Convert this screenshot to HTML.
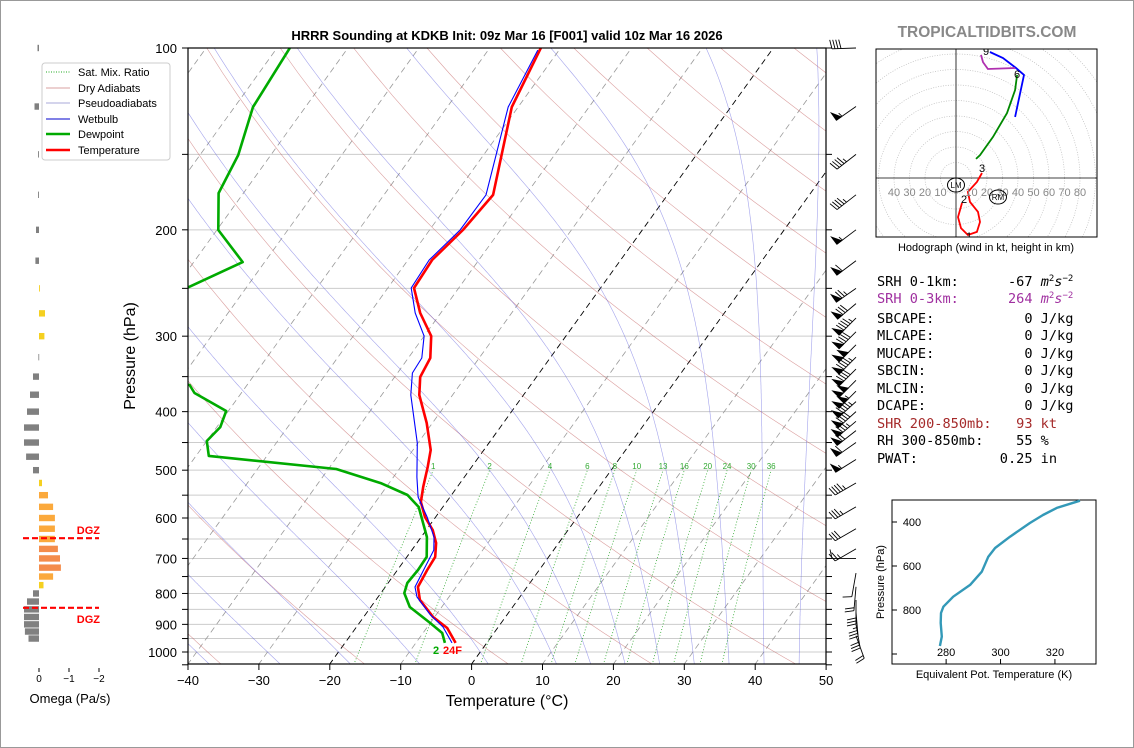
<!DOCTYPE html>
<html><head><meta charset="utf-8">
<style>
html,body{margin:0;padding:0;background:#fff;}
svg{display:block;font-family:"Liberation Sans","DejaVu Sans",sans-serif;}
.mono{font-family:"DejaVu Sans Mono","Liberation Mono",monospace;font-size:13.6px;}
</style></head>
<body>
<svg id="root" width="1134" height="748" viewBox="0 0 1134 748" xmlns="http://www.w3.org/2000/svg">
<rect x="0.5" y="0.5" width="1133" height="747" fill="#fff" stroke="#999"/>
<defs><clipPath id="plotclip"><rect x="188" y="48" width="638" height="616"/></clipPath>
<clipPath id="hodoclip"><rect x="876" y="49" width="221" height="188"/></clipPath></defs>
<text x="507" y="40" text-anchor="middle" font-size="13" font-weight="bold">HRRR Sounding at KDKB Init: 09z Mar 16 [F001] valid 10z Mar 16 2026</text>
<text x="987" y="37" text-anchor="middle" font-size="15.5" font-weight="bold" fill="#888">TROPICALTIDBITS.COM</text>
<g id="bg" clip-path="url(#plotclip)"></g>
<g id="prof" clip-path="url(#plotclip)"></g>
<g id="axes"></g>
<g id="barbs"></g>
<g id="omega"></g>
<g id="hodo"></g>
<g id="thetae"></g>
<g>
<rect x="42" y="63" width="128" height="97" rx="3" fill="#fff" fill-opacity="0.9" stroke="#ccc"/>
<line x1="46" y1="72" x2="70" y2="72" stroke="#2a2" stroke-dasharray="1,1.5"/>
<text x="78" y="76" font-size="11">Sat. Mix. Ratio</text>
<line x1="46" y1="88" x2="70" y2="88" stroke="#d9a0a0"/>
<text x="78" y="92" font-size="11">Dry Adiabats</text>
<line x1="46" y1="103" x2="70" y2="103" stroke="#a8a8d8"/>
<text x="78" y="107" font-size="11">Pseudoadiabats</text>
<line x1="46" y1="119" x2="70" y2="119" stroke="#00c"/>
<text x="78" y="123" font-size="11">Wetbulb</text>
<line x1="46" y1="134" x2="70" y2="134" stroke="#0a0" stroke-width="2.5"/>
<text x="78" y="138" font-size="11">Dewpoint</text>
<line x1="46" y1="150" x2="70" y2="150" stroke="#f00" stroke-width="2.5"/>
<text x="78" y="154" font-size="11">Temperature</text>
</g>
<g class="mono">
<text x="877" y="286" xml:space="preserve">SRH 0-1km:      -67 <tspan font-style="italic">m</tspan><tspan font-size="9" dy="-5">2</tspan><tspan font-style="italic" dy="5">s</tspan><tspan font-size="9" dy="-5">−2</tspan></text>
<text x="877" y="303" fill="#a030a0" xml:space="preserve">SRH 0-3km:      264 <tspan font-style="italic">m</tspan><tspan font-size="9" dy="-5">2</tspan><tspan font-style="italic" dy="5">s</tspan><tspan font-size="9" dy="-5">−2</tspan></text>
<text x="877" y="323" xml:space="preserve">SBCAPE:           0 J/kg</text>
<text x="877" y="340" xml:space="preserve">MLCAPE:           0 J/kg</text>
<text x="877" y="358" xml:space="preserve">MUCAPE:           0 J/kg</text>
<text x="877" y="375" xml:space="preserve">SBCIN:            0 J/kg</text>
<text x="877" y="393" xml:space="preserve">MLCIN:            0 J/kg</text>
<text x="877" y="410" xml:space="preserve">DCAPE:            0 J/kg</text>
<text x="877" y="428" fill="#a52a2a" xml:space="preserve">SHR 200-850mb:   93 kt</text>
<text x="877" y="445" xml:space="preserve">RH 300-850mb:    55 %</text>
<text x="877" y="463" xml:space="preserve">PWAT:          0.25 in</text>
</g>
</svg>
<script>
// ===== Skew-T data =====
const tempP = [100,125.2,175.1,200.1,224.4,249.7,274.6,299.9,326,350.5,375.4,417.7,463,494,533,564.5,597.7,628,660,696,731.6,780.4,820,875,912.7,966];
const tempT = [-52.8,-50.9,-44.6,-45.3,-46.6,-46.3,-42.9,-39.0,-36.9,-36.4,-34.7,-30.8,-27.5,-26.2,-24.8,-23.6,-21.5,-19.1,-17.3,-16.0,-15.8,-15.4,-13.8,-10.2,-7.1,-4.4];
const wbP = [100.8,125.2,175.1,200.1,224.4,249.7,274.6,299.9,326,345.2,375.4,450.8,513.3,553.9,597.7,645,678,723,780.4,811,868,909,966];
const wbT = [-53,-51.4,-45.6,-45.7,-47.0,-46.7,-43.6,-40.0,-38.1,-37.9,-35.9,-30.1,-26.7,-24.5,-21.2,-18.2,-16.9,-16.4,-15.8,-14.5,-10.8,-7.8,-4.9];
const dewP = [100,125.2,150.4,173.9,200.1,226.2,248.9,300,340,361.4,372.6,399,424.2,447.3,473.6,497.8,525.2,549.7,575.4,645,696,731.6,768.6,798.8,842.5,895.4,930,966];
const dewT = [-88.2,-87.4,-84.6,-83.5,-79.8,-73.1,-78.2,-85,-83,-68.1,-66.6,-60.3,-59.5,-60,-58.2,-38.9,-31.2,-26.2,-23.4,-19.2,-17.2,-17.1,-17.3,-16.7,-14.5,-10,-7.3,-5.9];
const yTickP = [100,200,300,400,500,600,700,800,900,1000];
const xTickT = [-40,-30,-20,-10,0,10,20,30,40,50];
const mixRatios = [1,2,4,6,8,10,13,16,20,24,30,36];
const barbP = [100,125,150,175,200,225,250,265,280,295,310,325,340,355,370,385,400,415,430,450,480,525,575,625,675,700,740,780,820,860,900,940];
const barbSpd = [40,55,45,45,55,60,75,80,95,90,100,95,90,100,105,95,90,85,70,60,55,45,35,30,25,10,10,20,30,35,30,20];
const barbDir = [268,235,232,232,233,233,235,230,225,225,225,225,225,225,225,228,228,230,232,235,238,240,240,240,240,270,190,185,180,175,170,160];
// Omega data
const omegaP = [100,125,150,175,200,225,250,275,300,325,350,375,400,425,450,475,500,525,550,575,600,625,650,675,700,725,750,775,800,825,850,875,900,925,950];
const omegaVal = [0.05,0.15,0.03,0.03,0.1,0.12,-0.03,-0.2,-0.18,0.02,0.2,0.3,0.4,0.5,0.5,0.43,0.2,-0.1,-0.3,-0.47,-0.53,-0.53,-0.53,-0.63,-0.7,-0.73,-0.47,-0.15,0.2,0.4,0.5,0.5,0.5,0.47,0.35];
const dgzP = [648,845];
// Hodograph data (kt)
const hodoRedU = [3.9,1.3,3.2,7.7,13.5,15.5,14.2,9.0,7.7,13.5,16.8];
const hodoRedV = [-16.1,-25.2,-32.3,-36.8,-34.8,-28.4,-21.9,-15.5,-9.0,-2.6,3.2];
const hodoGreenU = [12.9,15.5,23.9,32.9,38.1,39.4];
const hodoGreenV = [12.3,14.8,26.5,41.9,56.8,66.5];
const hodoBlueU = [38.1,43.9,38.7,30.3,21.9];
const hodoBlueV = [39.4,66.5,71.0,77.4,81.3];
const hodoPurpleU = [38.1,20.6,17.4,16.1];
const hodoPurpleV = [71,70.3,74.8,79.4];
const hodoRingKt = [10,20,30,40,50,60,70,80,90,100,110];
const hodoTickKt = [-40,-30,-20,-10,10,20,30,40,50,60,70,80];
// Theta-e data
const thetaEK = [277.7,278.4,278.0,278.1,279.0,282.6,288.8,293.1,295.5,298.0,303.5,310.8,315.6,320.7,329.2];
const thetaEP = [963.6,921,859,813.6,785,739.5,686,626,557.7,518,466.8,404.5,368,336,303];
const thetaETicksP = [400,600,800,1000];
const thetaETicksK = [280,300,320];

const NS='http://www.w3.org/2000/svg';
function mk(tag,attrs,parent){const e=document.createElementNS(NS,tag);for(const k in attrs)e.setAttribute(k,attrs[k]);parent.appendChild(e);return e;}
const yP = p => 48 + 604*Math.log10(p/100);
const K = 0.72;
const xT = (T,p) => 188 + (T+40)*7.09 + K*(664 - yP(p));
function pathOf(ps,ts){return ps.map((p,i)=>(i?'L':'M')+xT(ts[i],p).toFixed(1)+','+yP(p).toFixed(1)).join('');}

const bg=document.getElementById('bg');
for(let p=100;p<=1050;p+=50){const l=mk('line',{x1:188,x2:826,y1:yP(p),y2:yP(p),stroke:'#ccc','stroke-width':1},bg);

}
for(let T=-120;T<=50;T+=10){const l=mk('line',{x1:xT(T,1050),y1:yP(1050),x2:xT(T,100),y2:yP(100),stroke:(T===0||T===-20)?'#000':'#999','stroke-width':(T===0||T===-20)?0.9:0.8,'stroke-dasharray':'6,4'},bg);

}
for(let th=214.7;th<=560;th+=20){let d='';for(let p=1050;p>=100;p-=10){const T=th*Math.pow(p/1000,0.286)-273.15;d+=(p===1050?'M':'L')+xT(T,p).toFixed(1)+','+yP(p).toFixed(1);}
const l=mk('path',{d:d,fill:'none',stroke:'rgba(190,80,80,0.55)','stroke-width':0.6},bg);

}
function es(Tc){return 6.112*Math.exp(17.67*Tc/(Tc+243.5));}
function dTdp(T,p){const Tc=T-273.15;const e=es(Tc);const rs=0.622*e/Math.max(p-e,1);return (287*T+2.501e6*rs)/(p*(1005+2.501e6*2.501e6*rs*0.622/(287*T*T)));}
[-40,-30,-20,-10,0,10,15,20,25,30,35,40,45,50,55].forEach(t0=>{let T=t0+273.15,pts=[];let Tb=T;for(let p=1000;p<1050;p+=5){Tb+=dTdp(Tb,p)*5;}
pts.push([1050,Tb]);pts.push([1000,T]);for(let p=1000;p>100;p-=2){T-=dTdp(T,p)*2;pts.push([p-2,T]);}
pts.sort((a,b)=>b[0]-a[0]);const d=pts.map((q,i)=>(i?'L':'M')+xT(q[1]-273.15,q[0]).toFixed(1)+','+yP(q[0]).toFixed(1)).join('');
const l=mk('path',{d:d,fill:'none',stroke:'rgba(90,90,220,0.55)','stroke-width':0.6},bg);

});
function tdFromW(w,p){const e=w*p/(622+w);const l=Math.log(e/6.112);return 243.5*l/(17.67-l);}
mixRatios.forEach(w=>{let d='';for(let p=1050;p>=500;p-=25){d+=(p===1050?'M':'L')+xT(tdFromW(w,p),p).toFixed(1)+','+yP(p).toFixed(1);}
const l=mk('path',{d:d,fill:'none',stroke:'#3a3','stroke-width':0.8,'stroke-dasharray':'1,2'},bg);


const t=mk('text',{x:xT(tdFromW(w,500),500),y:yP(500)-1,'font-size':8,fill:'#3a3','text-anchor':'middle'},bg);t.textContent=w;

});

const prof=document.getElementById('prof');
let e=mk('path',{d:pathOf(dewP,dewT),fill:'none',stroke:'#0a0','stroke-width':2.6,'stroke-linejoin':'round'},prof);


e=mk('path',{d:pathOf(tempP,tempT),fill:'none',stroke:'#f00','stroke-width':2.6,'stroke-linejoin':'round'},prof);


e=mk('path',{d:pathOf(wbP,wbT),fill:'none',stroke:'#00f','stroke-width':1.1},prof);


e=mk('text',{x:433,y:654,'font-size':11,'font-weight':'bold',fill:'#0a0'},prof);e.textContent='2';


e=mk('text',{x:443,y:654,'font-size':11,'font-weight':'bold',fill:'#f00'},prof);e.textContent='24F';



const ax=document.getElementById('axes');
mk('rect',{x:188,y:48,width:638,height:616,fill:'none',stroke:'#000','stroke-width':1.2},ax);
for(let p=100;p<=1050;p+=50){mk('line',{x1:182,x2:188,y1:yP(p),y2:yP(p),stroke:'#000'},ax);mk('line',{x1:826,x2:832,y1:yP(p),y2:yP(p),stroke:'#000'},ax);}
yTickP.forEach(p=>{const t=mk('text',{x:177,y:yP(p)+5,'font-size':13,'text-anchor':'end'},ax);t.textContent=p;

});
xTickT.forEach(T=>{const x=188+(T+40)*7.09;mk('line',{x1:x,x2:x,y1:664,y2:670,stroke:'#000'},ax);
const t=mk('text',{x:x,y:685,'font-size':13,'text-anchor':'middle'},ax);t.textContent=T<0?'−'+(-T):T;

});
e=mk('text',{x:507,y:706,'font-size':16,'text-anchor':'middle'},ax);e.textContent='Temperature (°C)';


e=mk('text',{x:135,y:356,'font-size':16,'text-anchor':'middle',transform:'rotate(-90 135 356)'},ax);e.textContent='Pressure (hPa)';



const bb=document.getElementById('barbs');
barbP.forEach((p,i)=>{const ax0=856,ay0=yP(p);const d=barbDir[i]*Math.PI/180;const dx=Math.sin(d),dy=-Math.cos(d);const L=24;
const px=-dy,py=dx; let s=barbSpd[i];const g=mk('g',{stroke:'#000','stroke-width':0.9,fill:'#000'},bb);


mk('line',{x1:ax0,y1:ay0,x2:ax0+dx*L,y2:ay0+dy*L},g);let pos=L;
while(s>=50){const x1=ax0+dx*pos,y1=ay0+dy*pos,x2=ax0+dx*(pos-6),y2=ay0+dy*(pos-6);mk('polygon',{points:`${x1},${y1} ${x1+px*9},${y1+py*9} ${x2},${y2}`},g);pos-=7;s-=50;}
while(s>=10){const x1=ax0+dx*pos,y1=ay0+dy*pos;mk('line',{x1:x1,y1:y1,x2:x1+px*9+dx*2,y2:y1+py*9+dy*2},g);pos-=3;s-=10;}
if(s>=5){const x1=ax0+dx*pos,y1=ay0+dy*pos;mk('line',{x1:x1,y1:y1,x2:x1+px*4.5+dx,y2:y1+py*4.5+dy},g);}
});

const om=document.getElementById('omega');
const xO = w => 39 - w*30;
omegaP.forEach((p,i)=>{const w=omegaVal[i];const y=yP(p);const x0=Math.min(39,xO(w)),wd=Math.abs(xO(w)-39);
const col=w>=0?'#808080':(w>-0.25?'#f5d020':(w>-0.6?'#fba93c':'#f48c4a'));
const r=mk('rect',{x:x0,y:y-3.2,width:Math.max(wd,0.8),height:6.4,fill:col},om);

});
dgzP.forEach((p,i)=>{const l=mk('line',{x1:23,x2:99,y1:yP(p),y2:yP(p),stroke:'#f00','stroke-width':2.2,'stroke-dasharray':'6,3'},om);


const t=mk('text',{x:100,y:i?yP(p)+15:yP(p)-4,'font-size':11,'font-weight':'bold',fill:'#f00','text-anchor':'end'},om);t.textContent='DGZ';

});
[0,-1,-2].forEach(v=>{const x=xO(v);mk('line',{x1:x,x2:x,y1:668,y2:672,stroke:'#000'},om);
const t=mk('text',{x:x,y:682,'font-size':10,'text-anchor':'middle'},om);t.textContent=v===0?'0':'−'+(-v);

});
e=mk('text',{x:70,y:703,'font-size':13,'text-anchor':'middle'},om);e.textContent='Omega (Pa/s)';



const hd=document.getElementById('hodo');
const hx=u=>956+u*1.55, hy=v=>178-v*1.55;
const hc=mk('g',{'clip-path':'url(#hodoclip)'},hd);
hodoRingKt.forEach(r=>{const c=mk('circle',{cx:956,cy:178,r:r*1.55,fill:'none',stroke:'#bbb','stroke-width':0.7,'stroke-dasharray':'1,1.5'},hc);

});
mk('line',{x1:956,x2:956,y1:49,y2:237,stroke:'#000','stroke-width':0.8},hc);
mk('line',{x1:876,x2:1097,y1:178,y2:178,stroke:'#000','stroke-width':0.8},hc);
function hline(us,vs,col,name){const d=us.map((u,i)=>(i?'L':'M')+hx(u).toFixed(1)+','+hy(vs[i]).toFixed(1)).join('');
const p=mk('path',{d:d,fill:'none',stroke:col,'stroke-width':1.8},hc);

}
hline(hodoRedU,hodoRedV,'#f00','hodograph-0-3km');
hline(hodoGreenU,hodoGreenV,'#080','hodograph-3-6km');
hline(hodoBlueU,hodoBlueV,'#00f','hodograph-6-9km');
hline(hodoPurpleU,hodoPurpleV,'#b030b0','hodograph-9km-plus');
hodoTickKt.forEach(k=>{const t=mk('text',{x:hx(k),y:196,'font-size':11,fill:'#888','text-anchor':'middle'},hc);t.textContent=Math.abs(k);

});
[['9',986,55],['6',1017,78],['3',982,172],['2',964,203],['1',969,240]].forEach(a=>{const t=mk('text',{x:a[1],y:a[2],'font-size':11,'text-anchor':'middle'},hc);t.textContent=a[0];

});
[['LM',956,185],['RM',998,197]].forEach(a=>{mk('ellipse',{cx:a[1],cy:a[2],rx:8.5,ry:7,fill:'none',stroke:'#000','stroke-width':1},hc);
const t=mk('text',{x:a[1],y:a[2]+3,'font-size':8,'text-anchor':'middle'},hc);t.textContent=a[0];

});
mk('rect',{x:876,y:49,width:221,height:188,fill:'none',stroke:'#000','stroke-width':1},hd);
e=mk('text',{x:986,y:251,'font-size':11,'text-anchor':'middle'},hd);e.textContent='Hodograph (wind in kt, height in km)';



const te=document.getElementById('thetae');
const tx=k=>892+(k-260.1)*2.72, ty=p=>500+(p-300)*0.22;
mk('rect',{x:892,y:500,width:204,height:164,fill:'none',stroke:'#000','stroke-width':1},te);
e=mk('path',{d:thetaEK.map((k,i)=>(i?'L':'M')+tx(k).toFixed(1)+','+ty(thetaEP[i]).toFixed(1)).join(''),fill:'none',stroke:'#3399b8','stroke-width':2.4,'stroke-linejoin':'round'},te);


thetaETicksP.forEach(p=>{mk('line',{x1:892,x2:897,y1:ty(p),y2:ty(p),stroke:'#000'},te);
if(p<1000){const t=mk('text',{x:912,y:ty(p)+4,'font-size':11,'text-anchor':'middle'},te);t.textContent=p;

}});
thetaETicksK.forEach(k=>{mk('line',{x1:tx(k),x2:tx(k),y1:664,y2:659,stroke:'#000'},te);
const t=mk('text',{x:tx(k),y:656,'font-size':11,'text-anchor':'middle'},te);t.textContent=k;

});
e=mk('text',{x:994,y:678,'font-size':11,'text-anchor':'middle'},te);e.textContent='Equivalent Pot. Temperature (K)';


e=mk('text',{x:884,y:582,'font-size':11,'text-anchor':'middle',transform:'rotate(-90 884 582)'},te);e.textContent='Pressure (hPa)';


</script>
</body></html>
